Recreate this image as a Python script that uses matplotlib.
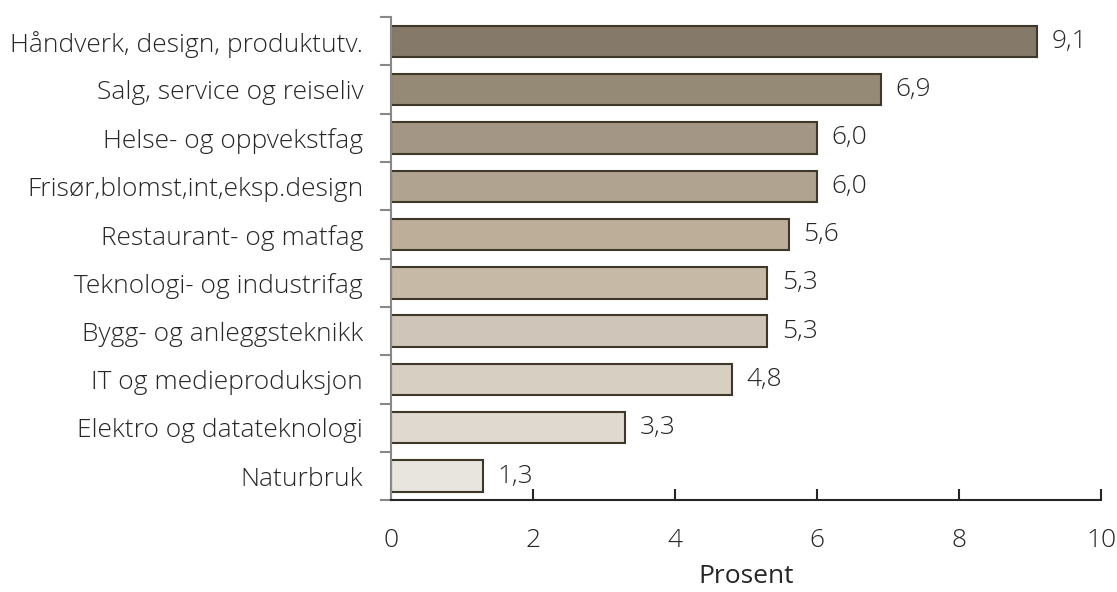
import matplotlib.pyplot as plt

# data
categories = ["Håndverk, design, produktutv.", "Salg, service og reiseliv",
              "Helse- og oppvekstfag", "Frisør,blomst,int,eksp.design",
              "Restaurant- og matfag", "Teknologi- og industrifag",
              "Bygg- og anleggsteknikk", "IT og medieproduksjon",
              "Elektro og datateknologi", "Naturbruk"]
values = [9.1, 6.9, 6.0, 6.0, 5.6, 5.3, 5.3, 4.8, 3.3, 1.3]
labels = ["9,1", "6,9", "6,0", "6,0", "5,6", "5,3", "5,3", "4,8", "3,3", "1,3"]
colors = ["#857a6a", "#958a76", "#a39684", "#b0a390", "#bcae99",
          "#c6b9a6", "#cfc5b8", "#d8cfc3", "#e0d9d0", "#e8e4de"]

plt.rcParams['font.family'] = ['Open Sans', 'DejaVu Sans']
plt.rcParams['font.weight'] = 'light'
fs = 19

fig, ax = plt.subplots(figsize=(11.17, 5.92), dpi=100)
fig.subplots_adjust(left=0.35, right=0.986, top=0.971, bottom=0.155)

ypos = list(range(len(categories)))
ax.barh(ypos, values, height=0.65, color=colors, edgecolor="#3f3728", linewidth=1.5)
for y, v, t in zip(ypos, values, labels):
    ax.text(v + 0.2, y, t, va="center", ha="left", fontsize=fs, color="#262626")

ax.set_ylim(len(categories) - 0.5, -0.5)
ax.set_xlim(0, 10)
ax.set_yticks([y - 0.5 for y in ypos] + [len(categories) - 0.5])
ax.set_yticklabels([])
ax.set_yticks(ypos, minor=True)
ax.set_yticklabels(categories, minor=True, fontsize=fs, color="#262626")
ax.tick_params(axis="y", which="minor", length=0, pad=20)
ax.tick_params(axis="y", which="major", length=8, width=1.5, color="#888888")

ax.set_xticks([0, 2, 4, 6, 8, 10])
ax.set_xticklabels(["0", "2", "4", "6", "8", "10"], fontsize=fs, color="#262626")
ax.tick_params(axis="x", direction="in", length=8, width=1.5, color="#262626", pad=20)
ax.set_xlabel("Prosent", fontsize=fs, color="#262626", labelpad=8)

for s in ["top", "right"]:
    ax.spines[s].set_visible(False)
ax.spines["left"].set_color("#888888")
ax.spines["left"].set_linewidth(1.5)
ax.spines["bottom"].set_color("#262626")
ax.spines["bottom"].set_linewidth(1.5)

fig.savefig("out.png", dpi=100)
